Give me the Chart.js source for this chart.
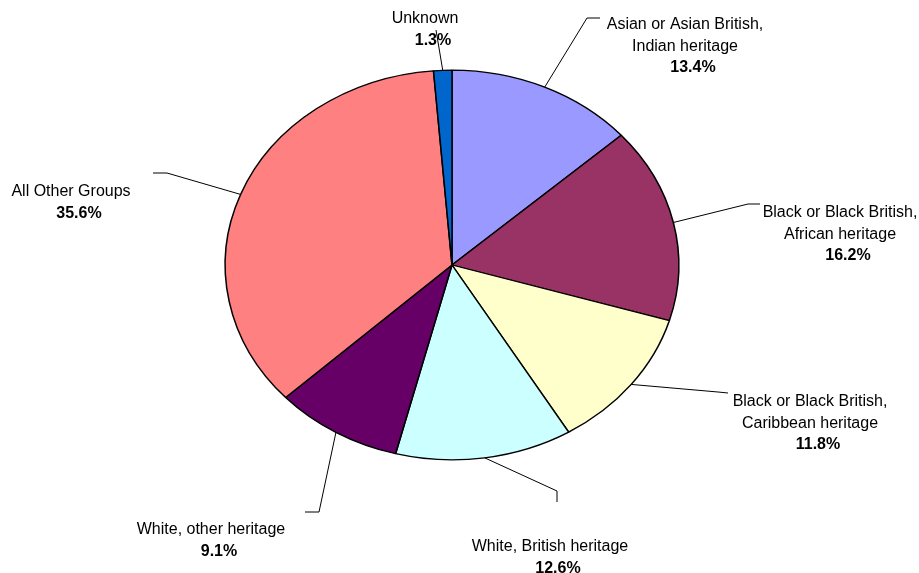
<!DOCTYPE html>
<html>
<head>
<meta charset="utf-8">
<script src="https://cdn.jsdelivr.net/npm/chart.js@4"></script>
<style>
    body { margin: 0; background: #fff; }
    #wrap { position: relative; width: 919px; height: 573px; }
</style>
</head>
<body>
<div id="wrap"><canvas id="myChart"></canvas></div>
<script>
// slice data, clockwise from 12 o'clock
let groupNames = [
    ['Asian or Asian British,', 'Indian heritage'],
    ['Black or Black British,', 'African heritage'],
    ['Black or Black British,', 'Caribbean heritage'],
    ['White, British heritage'],
    ['White, other heritage'],
    ['All Other Groups'],
    ['Unknown']
];
let groupShares = [13.4, 16.2, 11.8, 12.6, 9.1, 35.6, 1.3];
let groupColors = ['#9999FF', '#993366', '#FFFFCC', '#CCFFFF', '#660066', '#FF8080', '#0066CC'];

// where the data labels sit (centre of first line) and how the leader lines bend
let labelAt    = [[685, 25], [840, 213], [810, 402], [550, 547], [211, 530], [71, 192], [425, 19]];
let leaderBend = [[587, 18], [748, 204], [718, 392], [557, 491], [319, 512], [167, 173], [436, 30]];
let leaderEnd  = [[600, 18], [760, 204], [728, 393], [557, 502], [305, 512], [153, 173], [436, 30]];

// the pie in the picture is squashed into an ellipse
const stretchX = 227 / 195;
const lineH = 21.5;
const fontName = '"Liberation Sans", Arial, sans-serif';

const ellipsePlugin = {
    id: 'ellipse',
    beforeDatasetsDraw(chart) {
        let arc = chart.getDatasetMeta(0).data[0];
        let ctx = chart.ctx;
        ctx.save();
        ctx.translate(arc.x, arc.y);
        ctx.scale(stretchX, 1);
        ctx.translate(-arc.x, -arc.y);
    },
    afterDatasetsDraw(chart) {
        chart.ctx.restore();
    }
};

const labelPlugin = {
    id: 'pieLabels',
    afterDraw(chart) {
        let ctx = chart.ctx;
        let arcs = chart.getDatasetMeta(0).data;
        ctx.save();
        ctx.strokeStyle = '#000';
        ctx.lineWidth = 1;
        ctx.fillStyle = '#000';
        ctx.textAlign = 'center';
        ctx.textBaseline = 'middle';
        for (let i = 0; i < arcs.length; i++) {
            let a = arcs[i];
            let mid = (a.startAngle + a.endAngle) / 2;
            let ax = a.x + Math.cos(mid) * a.outerRadius * stretchX;
            let ay = a.y + Math.sin(mid) * a.outerRadius;

            // leader line
            ctx.beginPath();
            ctx.moveTo(ax, ay);
            ctx.lineTo(leaderBend[i][0], leaderBend[i][1]);
            ctx.lineTo(leaderEnd[i][0], leaderEnd[i][1]);
            ctx.stroke();

            // name lines + bold percentage
            let [lx, ly] = labelAt[i];
            ctx.font = '16px ' + fontName;
            let lines = groupNames[i];
            for (let k = 0; k < lines.length; k++) {
                ctx.fillText(lines[k], lx, ly + k * lineH);
            }
            ctx.font = 'bold 16px ' + fontName;
            ctx.fillText(groupShares[i].toFixed(1) + '%', lx + 8, ly + lines.length * lineH);
        }
        ctx.restore();
    }
};

var canvas = document.getElementById('myChart');
var config = {
    type: 'pie',
    data: {
        labels: groupNames.map(n => n.join(' ')),
        datasets: [{
            data: groupShares,
            backgroundColor: groupColors,
            borderColor: '#000',
            borderWidth: 1.3,
            clip: false
        }]
    },
    options: {
        responsive: true,
        maintainAspectRatio: false,
        animation: false,
        layout: {
            padding: { top: 69.5, bottom: 112.5, left: 256.5, right: 271.5 }
        },
        plugins: {
            legend: { display: false },
            tooltip: { enabled: false }
        }
    },
    plugins: [ellipsePlugin, labelPlugin]
};
let myChart = new Chart(canvas, config);
</script>
</body>
</html>
